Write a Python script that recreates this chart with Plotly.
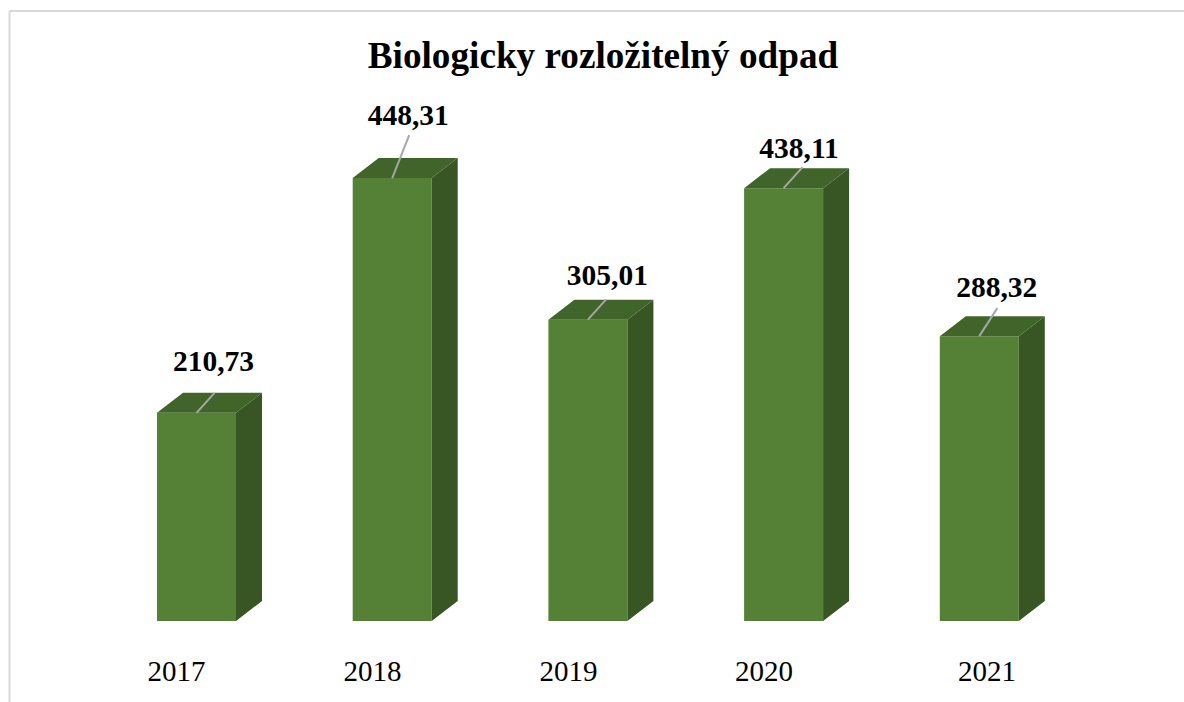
import plotly.graph_objects as go

years = ["2017", "2018", "2019", "2020", "2021"]
values = [210.73, 448.31, 305.01, 438.11, 288.32]
value_labels = ["210,73", "448,31", "305,01", "438,11", "288,32"]

FRONT = "#558136"
TOP = "#41642a"
SIDE = "#375623"
LEADER = "#a6a6a6"
FONT = "Liberation Serif"

# page geometry in pixels
WIDTH = 1184
HEIGHT = 702
BASE_PX = 621
PX_PER_VALUE = 0.988
PX_PER_CAT = 195.7
FIRST_BAR_PX = 196.5

bar_width = 79 / PX_PER_CAT
depth_x = 26 / PX_PER_CAT
depth_y = 20 / PX_PER_VALUE

# label offsets from the bar's front top centre, in pixels (dx, dy up)
label_offsets = [(17, 49), (16, 60), (19.5, 42), (15.5, 38), (17.5, 47)]
leader_offsets = [(18, 20), (17, 43), (18, 20), (19, 21), (18, 28)]
year_px = [176.5, 372.5, 568.5, 764, 987]

xs = list(range(len(years)))
half = bar_width / 2

top_x, top_y, side_x, side_y = [], [], [], []
for x, v in zip(xs, values):
    top_x += [x - half, x + half, x + half + depth_x, x - half + depth_x, x - half, None]
    top_y += [v, v, v + depth_y, v + depth_y, v, None]
    side_x += [x + half, x + half + depth_x, x + half + depth_x, x + half, x + half, None]
    side_y += [0, depth_y, v + depth_y, v, 0, None]

fig = go.Figure()
fig.add_trace(go.Bar(x=xs, y=values, width=bar_width, marker=dict(color=FRONT, line=dict(width=0)),
                     hovertemplate="%{y}<extra></extra>"))
fig.add_trace(go.Scatter(x=side_x, y=side_y, mode="lines", fill="toself", fillcolor=SIDE,
                         line=dict(width=0), hoverinfo="skip"))
fig.add_trace(go.Scatter(x=top_x, y=top_y, mode="lines", fill="toself", fillcolor=TOP,
                         line=dict(width=0), hoverinfo="skip"))

# leader lines
lead_x, lead_y = [], []
for x, v, (dx, dy) in zip(xs, values, leader_offsets):
    lead_x += [x, x + dx / PX_PER_CAT, None]
    lead_y += [v, v + dy / PX_PER_VALUE, None]
fig.add_trace(go.Scatter(x=lead_x, y=lead_y, mode="lines", line=dict(color=LEADER, width=2), hoverinfo="skip"))

# data labels
fig.add_trace(go.Scatter(
    x=[x + o[0] / PX_PER_CAT for x, o in zip(xs, label_offsets)],
    y=[v + o[1] / PX_PER_VALUE for v, o in zip(values, label_offsets)],
    mode="text", text=["<b>" + t + "</b>" for t in value_labels], textposition="middle center",
    textfont=dict(family=FONT, size=29.5, color="black"), hoverinfo="skip"))

# year labels sit off-centre from the bars
fig.add_trace(go.Scatter(
    x=[(p - FIRST_BAR_PX) / PX_PER_CAT for p in year_px],
    y=[(BASE_PX - 674) / PX_PER_VALUE] * len(years),
    mode="text", text=years, textposition="middle center",
    textfont=dict(family=FONT, size=29, color="black"), hoverinfo="skip"))

fig.update_layout(
    width=WIDTH,
    height=HEIGHT,
    margin=dict(l=0, r=0, t=0, b=0),
    paper_bgcolor="white",
    plot_bgcolor="white",
    showlegend=False,
    title=dict(text="<b>Biologicky rozložitelný odpad</b>", x=603 / WIDTH, xanchor="center",
               y=1 - 55 / HEIGHT, yanchor="middle", font=dict(family=FONT, size=37.2, color="black")),
    xaxis=dict(range=[-FIRST_BAR_PX / PX_PER_CAT, (WIDTH - FIRST_BAR_PX) / PX_PER_CAT], visible=False),
    yaxis=dict(range=[(BASE_PX - HEIGHT) / PX_PER_VALUE, BASE_PX / PX_PER_VALUE], visible=False),
)

# chart frame, cut off by the screenshot on the right and bottom
fig.add_shape(type="line", xref="paper", yref="paper", x0=9.5 / WIDTH, x1=1, y0=1 - 11 / HEIGHT, y1=1 - 11 / HEIGHT,
              line=dict(color="#d9d9d9", width=2))
fig.add_shape(type="line", xref="paper", yref="paper", x0=9.5 / WIDTH, x1=9.5 / WIDTH, y0=0, y1=1 - 11 / HEIGHT,
              line=dict(color="#d9d9d9", width=2))

# drop the browser's default body margin so the figure fills the window
fig.write_html("out.html", config=dict(displayModeBar=False), post_script="document.body.style.margin='0';")
